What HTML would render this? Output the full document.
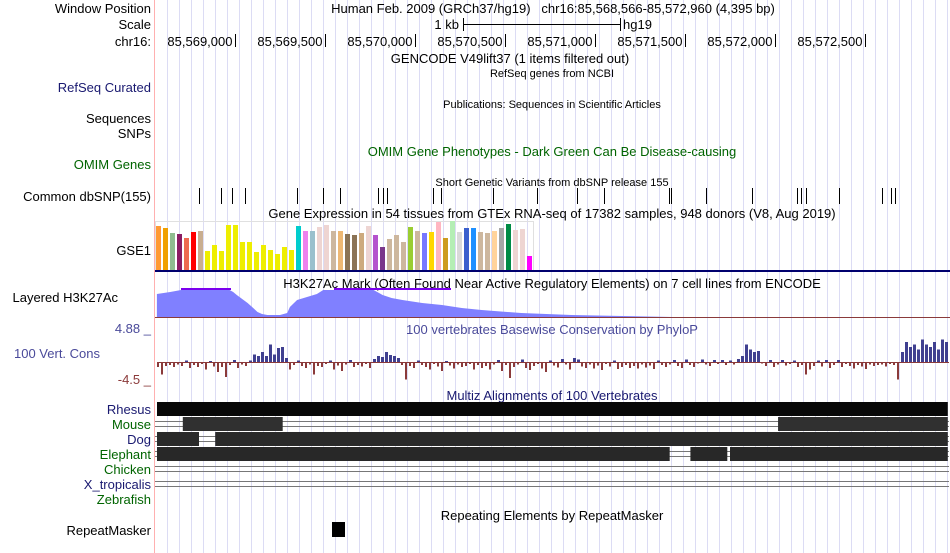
<!DOCTYPE html>
<html><head><meta charset="utf-8"><style>
body{margin:0;background:#fff;}
svg{display:block;font-family:"Liberation Sans",sans-serif;}
</style></head><body>
<svg id="chart" width="950" height="553" viewBox="0 0 950 553" xmlns="http://www.w3.org/2000/svg">
<g id="grid"></g>
<line x1="154.5" y1="0" x2="154.5" y2="553" stroke="#ffb0b0"/>
<g font-size="13" text-anchor="end" fill="#000">
<text x="151" y="13">Window Position</text>
<text x="151" y="29">Scale</text>
<text x="151" y="46">chr16:</text>
<text x="151" y="92" fill="#191970">RefSeq Curated</text>
<text x="151" y="123">Sequences</text>
<text x="151" y="138">SNPs</text>
<text x="151" y="169" fill="#006400">OMIM Genes</text>
<text x="151" y="201">Common dbSNP(155)</text>
<text x="151" y="255">GSE1</text>
<text x="118" y="302">Layered H3K27Ac</text>
<text x="151" y="333" fill="#4a4a9a">4.88 _</text>
<text x="100" y="358" fill="#4a4a9a">100 Vert. Cons</text>
<text x="151" y="384" fill="#8b3a3a">-4.5 _</text>
<text x="151" y="414" fill="#191970">Rhesus</text>
<text x="151" y="429" fill="#006400">Mouse</text>
<text x="151" y="444" fill="#191970">Dog</text>
<text x="151" y="459" fill="#006400">Elephant</text>
<text x="151" y="474" fill="#006400">Chicken</text>
<text x="151" y="489" fill="#191970">X_tropicalis</text>
<text x="151" y="504" fill="#006400">Zebrafish</text>
<text x="151" y="535">RepeatMasker</text>
</g>
<g font-size="13" text-anchor="middle">
<text x="553" y="13">Human Feb. 2009 (GRCh37/hg19)&#160;&#160; chr16:85,568,566-85,572,960 (4,395 bp)</text>
<text x="510" y="63">GENCODE V49lift37 (1 items filtered out)</text>
<text x="552" y="156" fill="#006400">OMIM Gene Phenotypes - Dark Green Can Be Disease-causing</text>
<text x="552" y="218">Gene Expression in 54 tissues from GTEx RNA-seq of 17382 samples, 948 donors (V8, Aug 2019)</text>
<text x="552" y="288">H3K27Ac Mark (Often Found Near Active Regulatory Elements) on 7 cell lines from ENCODE</text>
<text x="552" y="334" fill="#4a4a9a">100 vertebrates Basewise Conservation by PhyloP</text>
<text x="552" y="400" fill="#191970">Multiz Alignments of 100 Vertebrates</text>
<text x="552" y="520">Repeating Elements by RepeatMasker</text>
</g>
<g font-size="11" text-anchor="middle">
<text x="552" y="77">RefSeq genes from NCBI</text>
<text x="552" y="108">Publications: Sequences in Scientific Articles</text>
<text x="552" y="186">Short Genetic Variants from dbSNP release 155</text>
</g>
<g>
<text x="459" y="29" font-size="13" text-anchor="end">1 kb</text>
<line x1="463.5" y1="18" x2="463.5" y2="31" stroke="#000"/>
<line x1="463" y1="24.5" x2="620" y2="24.5" stroke="#000"/>
<line x1="620.5" y1="18" x2="620.5" y2="31" stroke="#000"/>
<text x="623" y="29" font-size="13">hg19</text>
</g>
<g id="ruler"></g>
<g id="dbsnp"></g>
<rect x="155.5" y="221.5" width="378" height="49" fill="none" stroke="#e0e0e0"/>
<g id="gtex"></g>
<rect x="155" y="270" width="795" height="2" fill="#00006e"/>
<g id="h3k"></g>
<g id="cons"></g>
<g id="multiz"></g>
<rect x="332" y="522" width="13" height="15" fill="#000"/>
</svg>
<script>
const NS="http://www.w3.org/2000/svg";
const rulerTicks=[85569000,85569500,85570000,85570500,85571000,85571500,85572000,85572500];
const rulerLabels=["85,569,000","85,569,500","85,570,000","85,570,500","85,571,000","85,571,500","85,572,000","85,572,500"];
const snpPositions=[85568800,85568922,85568983,85569055,85569344,85569489,85569583,85569794,85569822,85569844,85570100,85570144,85570433,85570678,85570900,85571050,85571411,85571422,85571617,85571872,85572122,85572144,85572172,85572355,85572594,85572644,85572666];
const gtexValues=[44,42,37,36,32,38,39,19,25,19,45,45,28,28,18,25,20,16,23,20,44,39,39,43,45,39,39,36,35,37,44,35,23,31,35,28,43,39,37,38,48,32,49,38,42,42,38,37,39,42,46,40,41,14];
const gtexColors=["#FF9933","#F0A000","#8FBC8F","#8B1C62","#EE6A50","#FF0000","#C9AE90","#EEEE00","#EEEE00","#EEEE00","#EEEE00","#EEEE00","#EEEE00","#EEEE00","#EEEE00","#EEEE00","#EEEE00","#EEEE00","#EEEE00","#EEEE00","#00CDCD","#EE82EE","#9AC0CD","#EED5D2","#EED5D2","#CDB79E","#EEB874","#8B7355","#8B7355","#CDAA7D","#EED5D2","#B452CD","#7A378B","#CDB79E","#CDB79E","#CDB79E","#9ACD32","#CDB79E","#7777FF","#FFD700","#FFB6C1","#CD9B1D","#B4EEB4","#D9D9D9","#3A5FCD","#1E90FF","#CDB79E","#CDB79E","#FFD39B","#A6A6A6","#008B45","#EED5D2","#EED5D2","#FF00FF"];
const h3kPos=[85568566,85568640,85568700,85568760,85568960,85568990,85569010,85569040,85569070,85569095,85569125,85569150,85569180,85569250,85569290,85569305,85569345,85569400,85569455,85569490,85569770,85569820,85569870,85569930,85570040,85570150,85570260,85570370,85570590,85570870,85571150,85571430,85572960];
const h3kVals=[24,26,28,29,29,26,23,19,15,11,6,4,3,3,5,11,18,21,24,28,28,23,20,18,15,13,10,8,5,3,2,1,1];
const consVals=[-1,-2.5,-0.8,-0.6,-1,-0.5,-0.8,0.3,-1.2,-0.6,-1,-0.4,-1.5,0.2,-0.9,-2,-1,-3,-0.6,0.4,
-1.2,-0.5,-0.8,0.3,1.5,1.2,2,1.2,3.5,1.5,2.8,3,0.8,-1.5,-0.6,0.3,-0.8,-1.2,-0.5,-2.5,
-0.8,-1,-0.4,0.3,-1.5,-0.7,-1.8,-0.5,0.4,-1,-0.6,-0.9,-0.4,-1.2,0.6,1.2,1,2,1.4,1.2,
0.8,-0.6,-3.5,-0.8,-1.2,0.3,-0.6,-1,-1.5,-0.4,-0.9,-1.8,0.2,-0.7,-1.3,-0.5,-1,-0.8,-0.4,-1.5,
-0.6,-1.2,-0.8,-1.5,-0.5,0.4,-1.8,-0.6,-3.2,-1,-0.5,0.5,-1.2,-1.6,-0.8,-0.4,-1.3,-2,0.3,-0.7,
-1.1,0.6,-0.5,-1.5,0.8,0.5,-0.9,-1.2,-0.5,-1.3,-0.7,-1.6,-0.4,-0.9,0.3,-1.4,-1,-0.6,-1.2,-0.8,
-1.3,-0.5,-1.1,-0.7,-1.4,0.3,-0.6,-1,-0.5,0.4,-0.8,-1.2,0.5,-0.6,-1,-0.3,0.5,-0.5,-0.8,0.4,
-0.4,0.4,-0.6,0.3,-0.5,0.6,1.2,3.5,2.5,2,2.2,-0.3,-0.8,0.4,-1,-0.5,0.4,-0.7,-0.4,0.3,
-1,-0.6,-2.5,-1.5,-0.8,0.3,-0.9,0.4,-1.2,-0.6,0.4,-1,-0.4,-0.8,-1.3,-0.6,-0.9,-1.4,-0.5,-0.8,
-0.6,-0.5,-0.9,-0.4,-0.6,-3.5,2,4,3,3.5,2.5,4.5,3.5,3,4,2.5,4.5,4];
const species=["rhesus","mouse","dog","elephant","chicken","x-tropicalis"];
const alignBlocks=[[[85568566,85572960]],[[85568710,85569265],[85572017,85572960]],[[85568566,85568800],[85568890,85572960]],[[85568566,85571415],[85571530,85571735],[85571750,85572960]],[],[]];
const alignShade=["#080808","#303030","#2a2a2a","#282828","#000","#000"];

const X=bp=>235+(bp-85569000)*0.18;
function mk(tag,attrs,parent){const e=document.createElementNS(NS,tag);for(const k in attrs)e.setAttribute(k,attrs[k]);parent.appendChild(e);return e;}

const grid=document.getElementById('grid');
for(let x=167;x<950;x+=12){
  const l=mk('line',{x1:x+.5,y1:0,x2:x+.5,y2:553,stroke:'#dcdcf4'},grid);
  
  
}
const ruler=document.getElementById('ruler');
rulerTicks.forEach((p,i)=>{
  const x=Math.round(X(p))+.5;
  const l=mk('line',{x1:x,y1:34,x2:x,y2:47,stroke:'#000'},ruler);
  
  
  const t=mk('text',{x:x-3,y:46,'font-size':13,'text-anchor':'end'},ruler);
  t.textContent=rulerLabels[i];
  
  
});
const dbsnp=document.getElementById('dbsnp');
snpPositions.forEach(p=>{
  const x=Math.round(X(p))+.5;
  const l=mk('line',{x1:x,y1:188,x2:x,y2:204,stroke:'#000'},dbsnp);
  
  
});
const gtex=document.getElementById('gtex');
const gBase=270, gScale=1;
gtexValues.forEach((v,i)=>{
  const h=v*gScale;
  const r=mk('rect',{x:156+i*7,y:gBase-h,width:5,height:h,fill:gtexColors[i]},gtex);
  
  
});
const h3k=document.getElementById('h3k');
const hBase=318;
let d=`M${X(h3kPos[0])},${hBase}`;
h3kPos.forEach((p,i)=>{d+=` L${X(p).toFixed(1)},${hBase-h3kVals[i]}`;});
d+=` L${X(h3kPos[h3kPos.length-1])},${hBase} Z`;
const area=mk('path',{d:d,fill:'#8080ff'},h3k);


const b1=mk('rect',{x:181,y:288,width:50,height:2,fill:'#7b00ee'},h3k);


const b2=mk('rect',{x:334,y:288,width:117,height:2,fill:'#7b00ee'},h3k);


const bl=mk('rect',{x:155,y:317,width:795,height:1,fill:'#8a3a3a'},h3k);



const cons=document.getElementById('cons');
const cBase=362, cScale=5;
const cb=mk('line',{x1:157,y1:cBase+.5,x2:949,y2:cBase+.5,stroke:'#8b3a3a','stroke-width':1},cons);


consVals.forEach((v,i)=>{
  const h=Math.abs(v)*cScale;
  const r=mk('rect',{x:157+i*4,y:v>=0?cBase-h:cBase,width:v>=0?3:2,height:Math.max(h,1),fill:v>=0?'#404090':'#8b3a3a'},cons);
  
  
});
const mz=document.getElementById('multiz');
species.forEach((s,i)=>{
  const top=402+i*15;
  if(i>0){
    [top+4.5,top+9.5].forEach(y=>{
      const l=mk('line',{x1:155,y1:y,x2:949,y2:y,stroke:'#777'},mz);
      
      
    });
  }
  alignBlocks[i].forEach(b=>{
    const x0=Math.max(X(b[0]),157),x1=Math.min(X(b[1]),949);
    const r=mk('rect',{x:x0,y:top,width:x1-x0,height:14,fill:alignShade[i]},mz);
    
    
  });
});
</script>
</body></html>
